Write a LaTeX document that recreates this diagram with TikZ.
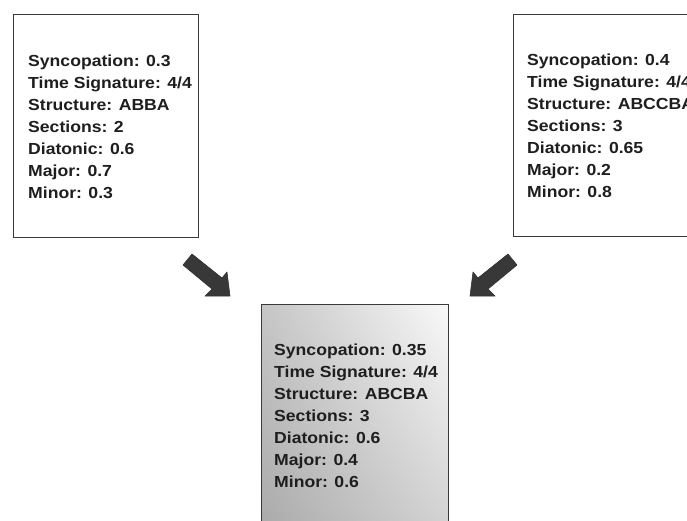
\documentclass[tikz,border=0pt]{standalone}
\usepackage{fontspec}
\usetikzlibrary{shadings}
\newfontfamily\boxfont[FakeStretch=1.1]{Liberation Sans Bold}
\definecolor{framegray}{HTML}{3A3A3A}
\definecolor{arrowgray}{HTML}{383838}
\definecolor{txtgray}{HTML}{1E1E1E}
\tikzset{
  infobox/.style={draw=framegray, line width=1.3pt, anchor=north west, inner sep=0pt},
  infotext/.style={anchor=base west, inner sep=0pt, align=left, text=txtgray,
    font=\boxfont\fontsize{16}{22}\selectfont},
  blockarrow/.style={fill=arrowgray, draw=arrowgray!90!black, line width=0.6pt, line join=round}
}
\begin{document}
\begin{tikzpicture}[x=1pt,y=-1pt]
\useasboundingbox (0,0) rectangle (687,520);
\clip (0,0) rectangle (687,520);
\fill[white] (0,0) rectangle (687,520);
% boxes
\node[infobox, fill=white, minimum width=185pt, minimum height=223pt] (left) at (13,14) {};
\node[infobox, fill=white, minimum width=200pt, minimum height=222pt] (right) at (513,14) {};
\node[infobox, minimum width=187pt, minimum height=260pt,
      upper left=gray!45, upper right=gray!5, lower left=gray!70, lower right=gray!40] (child) at (261,304) {};
% texts (anchored at the baseline of the last line)
\node[infotext] (lefttext) at (28,198) {Syncopation: 0.3\\Time Signature: 4/4\\Structure: ABBA\\Sections: 2\\Diatonic: 0.6\\Major: 0.7\\Minor: 0.3};
\node[infotext] (righttext) at (527,197) {Syncopation: 0.4\\Time Signature: 4/4\\Structure: ABCCBA\\Sections: 3\\Diatonic: 0.65\\Major: 0.2\\Minor: 0.8};
\node[infotext] (childtext) at (274,487) {Syncopation: 0.35\\Time Signature: 4/4\\Structure: ABCBA\\Sections: 3\\Diatonic: 0.6\\Major: 0.4\\Minor: 0.6};
% block arrows
\filldraw[blockarrow] (183,265) -- (192,254) -- (222,278) -- (227,272) -- (230,296) -- (205,296) -- (212,289) -- cycle;
\filldraw[blockarrow] (517,265) -- (508,254) -- (478,278) -- (473,272) -- (470,296) -- (495,296) -- (488,289) -- cycle;
\end{tikzpicture}
\end{document}
